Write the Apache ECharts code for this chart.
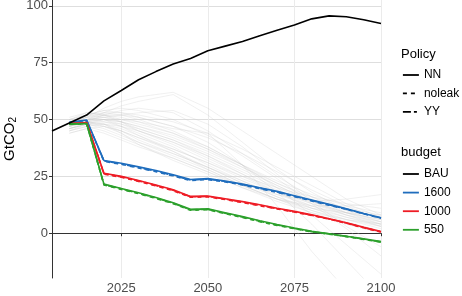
<!DOCTYPE html>
<html>
<head>
<meta charset="utf-8">
<script src="https://cdn.jsdelivr.net/npm/echarts@6/dist/echarts.min.js"></script>
<style>
  html, body { margin: 0; padding: 0; background: #fff; }
  #chart { width: 462px; height: 296px; }
</style>
</head>
<body>
<div id="chart"></div>
<script>
// x ticks / y ticks
var xTicks = [2025, 2050, 2075, 2100];
var yTicks = [0, 25, 50, 75, 100];

// BAU line
var bauYears = [2005, 2010, 2015, 2020, 2025, 2030, 2035, 2040, 2045, 2050, 2055, 2060, 2065, 2070, 2075, 2080, 2085, 2090, 2095, 2100];
var bau = [45, 48.5, 52, 58.2, 62.8, 67.5, 71.1, 74.4, 76.9, 80.3, 82.3, 84.3, 86.9, 89.3, 91.6, 94.3, 95.6, 95.2, 93.9, 92.3];

// budget scenarios (NN = solid, noleak, YY = dashed)
var years = [2010, 2015, 2020, 2025, 2030, 2035, 2040, 2045, 2050, 2055, 2060, 2065, 2070, 2075, 2080, 2085, 2090, 2095, 2100];
var b1600NN     = [48.8, 49.8, 32.0, 30.8, 29.2, 27.6, 25.7, 23.6, 24.0, 23.0, 21.6, 20.0, 18.4, 16.5, 14.6, 12.7, 10.8, 8.7, 6.8];
var b1600noleak = [48.6, 49.5, 31.6, 30.3, 28.7, 27.1, 25.2, 23.2, 23.6, 22.6, 21.2, 19.6, 18.0, 16.1, 14.2, 12.3, 10.5, 8.5, 6.6];
var b1600YY     = [48.7, 49.6, 31.8, 30.5, 28.9, 27.3, 25.4, 23.4, 23.8, 22.8, 21.4, 19.8, 18.2, 16.3, 14.4, 12.5, 10.6, 8.6, 6.7];
var b1000NN     = [48.3, 48.7, 26.4, 25.0, 23.2, 21.2, 19.1, 16.2, 16.4, 15.2, 13.9, 12.5, 11.0, 9.6, 8.1, 6.4, 4.6, 2.6, 0.7];
var b1000noleak = [48.1, 48.5, 26.0, 24.6, 22.8, 20.8, 18.7, 15.8, 16.0, 14.8, 13.5, 12.1, 10.7, 9.3, 7.8, 6.2, 4.4, 2.4, 0.5];
var b1000YY     = [48.2, 48.6, 26.2, 24.8, 23.0, 21.0, 18.9, 16.0, 16.2, 15.0, 13.7, 12.3, 10.8, 9.4, 7.9, 6.3, 4.5, 2.5, 0.6];
var b550NN      = [48.1, 48.3, 21.6, 19.7, 17.8, 15.7, 13.4, 10.5, 10.7, 9.0, 7.3, 5.5, 3.8, 2.3, 0.9, -0.2, -1.3, -2.5, -3.7];
var b550noleak  = [47.9, 48.1, 21.2, 19.3, 17.4, 15.3, 13.0, 10.1, 10.3, 8.6, 6.9, 5.1, 3.4, 2.0, 0.6, -0.4, -1.5, -2.7, -3.9];
var b550YY      = [48.0, 48.2, 21.4, 19.5, 17.6, 15.5, 13.2, 10.3, 10.5, 8.8, 7.1, 5.3, 3.6, 2.1, 0.7, -0.3, -1.4, -2.6, -3.8];

// background scenarios (grey)
var greyYears = [2010, 2015, 2020, 2025, 2030, 2040, 2050, 2060, 2070, 2080, 2090, 2100];
var greyRuns = [
  [48, 51, 55, 58, 60, 62, 55, 45, 35, 25, 15, 8],
  [47, 50, 53, 56, 58, 61, 52, 40, 28, 18, 10, 5],
  [46, 49, 52, 54, 55, 53, 45, 35, 25, 16, 9, 4],
  [49, 52, 54, 53, 51, 47, 42, 35, 27, 19, 12, 6],
  [45, 48, 50, 49, 47, 42, 36, 29, 22, 16, 11, 8],
  [50, 53, 52, 50, 48, 44, 38, 30, 20, 8, -5, -18],
  [48, 50, 51, 50, 49, 46, 44, 30, 12, -8, -25, -40],
  [47, 49, 50, 48, 45, 40, 34, 27, 20, 14, 9, 5],
  [46, 48, 48, 46, 43, 37, 31, 24, 18, 13, 9, 6],
  [44, 46, 47, 45, 42, 36, 29, 22, 16, 11, 7, 4],
  [49, 51, 53, 52, 50, 45, 38, 30, 22, 15, 10, 7],
  [48, 50, 49, 47, 44, 38, 30, 23, 16, 10, 5, 1],
  [47, 49, 47, 44, 40, 34, 28, 21, 15, 9, 4, 0],
  [50, 52, 51, 49, 46, 41, 34, 26, 18, 11, 6, 2],
  [45, 47, 45, 42, 39, 33, 27, 20, 14, 9, 6, 4],
  [48, 51, 50, 47, 43, 36, 28, 21, 15, 12, 12, 13],
  [46, 48, 46, 43, 40, 35, 29, 22, 17, 14, 15, 17],
  [49, 52, 54, 55, 54, 50, 43, 34, 24, 13, 2, -10],
  [47, 50, 52, 52, 51, 47, 40, 30, 18, 4, -12, -28],
  [44, 46, 44, 41, 38, 33, 27, 21, 15, 10, 6, 3],
  [48, 49, 48, 45, 41, 35, 29, 23, 17, 12, 8, 5],
  [51, 53, 52, 49, 45, 39, 32, 25, 18, 12, 7, 3],
  [46, 48, 49, 48, 46, 41, 35, 28, 21, 14, 8, 3],
  [47, 49, 50, 49, 47, 43, 37, 30, 23, 17, 12, 9],
  [49, 51, 52, 51, 49, 44, 37, 29, 21, 14, 9, 6],
  [45, 47, 48, 47, 45, 40, 33, 26, 19, 13, 8, 4],
  [48, 50, 51, 52, 53, 54, 48, 38, 26, 14, 3, -6],
  [47, 49, 48, 44, 39, 32, 26, 20, 15, 11, 9, 8],
  [50, 52, 53, 53, 52, 49, 44, 37, 29, 21, 13, 7],
  [46, 48, 47, 45, 42, 37, 31, 25, 20, 16, 13, 11]
];

var blue = "#1f6dbd";
var red = "#ee1c25";
var green = "#2ca02c";
var font = "'Liberation Sans', Arial, sans-serif";
var dotted = [4, 4];
var dashdot = [8, 3, 3, 3];

function pairs(xs, ys) {
  return xs.map(function (x, i) { return [x, ys[i]]; });
}

var series = [];
greyRuns.forEach(function (run, i) {
  series.push({
    name: "run" + i,
    type: "line",
    symbol: "none",
    silent: true,
    lineStyle: { color: "#c8c8c8", width: 0.8, opacity: 0.35 },
    data: pairs(greyYears, run)
  });
});

function addBudget(name, color, nn, noleak, yy) {
  series.push({
    name: name, type: "line", symbol: "none", color: color,
    lineStyle: { color: color, width: 1.6, type: "solid" },
    data: pairs(years, nn)
  });
  series.push({
    name: name + " noleak", type: "line", symbol: "none", color: color,
    lineStyle: { color: color, width: 1.6, type: dotted },
    data: pairs(years, noleak)
  });
  series.push({
    name: name + " YY", type: "line", symbol: "none", color: color,
    lineStyle: { color: color, width: 1.6, type: dashdot },
    data: pairs(years, yy)
  });
}
addBudget("1600", blue, b1600NN, b1600noleak, b1600YY);
addBudget("1000", red, b1000NN, b1000noleak, b1000YY);
addBudget("550", green, b550NN, b550noleak, b550YY);

series.push({
  name: "BAU", type: "line", symbol: "none", color: "#000",
  lineStyle: { color: "#000", width: 1.6 },
  data: pairs(bauYears, bau)
});

// legend-only series for the Policy key
[["NN", "solid"], ["noleak", dotted], ["YY", dashdot]].forEach(function (p) {
  series.push({
    name: p[0], type: "line", symbol: "none", color: "#000",
    lineStyle: { color: "#000", width: 1.6, type: p[1] },
    data: []
  });
});

var legendText = { fontFamily: font, fontSize: 12, color: "#000" };
var tickFmt = function (v) { return String(v); };

var option = {
  animation: false,
  backgroundColor: "#fff",
  textStyle: { fontFamily: font },
  title: [
    { text: "Policy", left: 396, top: 43, textStyle: { fontFamily: font, fontSize: 13, fontWeight: "normal", color: "#000" } },
    { text: "budget", left: 396, top: 141, textStyle: { fontFamily: font, fontSize: 13, fontWeight: "normal", color: "#000" } }
  ],
  legend: [
    {
      orient: "vertical", left: 397, top: 64, itemWidth: 16, itemHeight: 12, itemGap: 6.4,
      selectedMode: false, textStyle: legendText,
      itemStyle: { opacity: 0, borderWidth: 0 },
      lineStyle: { width: 1.8 },
      data: ["NN", "noleak", "YY"]
    },
    {
      orient: "vertical", left: 397, top: 163, itemWidth: 16, itemHeight: 12, itemGap: 6.6,
      selectedMode: false, textStyle: legendText,
      itemStyle: { opacity: 0, borderWidth: 0 },
      lineStyle: { width: 1.8 },
      data: ["BAU", "1600", "1000", "550"]
    }
  ],
  grid: { left: 52, right: 81, top: 0, bottom: 18, containLabel: false, outerBoundsMode: "none" },
  xAxis: {
    type: "value", min: 2005, max: 2100,
    axisLine: { show: true, lineStyle: { color: "#333", width: 1 } },
    axisTick: { show: true, length: 3, customValues: xTicks, lineStyle: { color: "#333" } },
    axisLabel: { customValues: xTicks, formatter: tickFmt, color: "#4d4d4d", fontSize: 13, margin: 4, fontFamily: font },
    splitLine: { show: true, lineStyle: { color: "#ebebeb", width: 1 } }
  },
  yAxis: {
    type: "value", min: -19.7, max: 102.6,
    name: "{a|GtCO}{b|2}",
    nameLocation: "middle", nameRotate: 90, nameGap: 34, nameMoveOverlap: false,
    nameTextStyle: {
      rich: {
        a: { fontFamily: font, fontSize: 15, color: "#000" },
        b: { fontFamily: font, fontSize: 10, color: "#000", padding: [7, 0, 0, 0] }
      }
    },
    axisLine: { show: true, lineStyle: { color: "#333", width: 1 } },
    axisTick: { show: true, length: 3, customValues: yTicks, lineStyle: { color: "#333" } },
    axisLabel: { customValues: yTicks, formatter: tickFmt, color: "#4d4d4d", fontSize: 13, margin: 4, fontFamily: font },
    splitLine: { show: true, lineStyle: { color: "#dedede", width: 1 } }
  },
  series: series
};

var myChart = echarts.init(document.getElementById("chart"));
myChart.setOption(option);
</script>
</body>
</html>
